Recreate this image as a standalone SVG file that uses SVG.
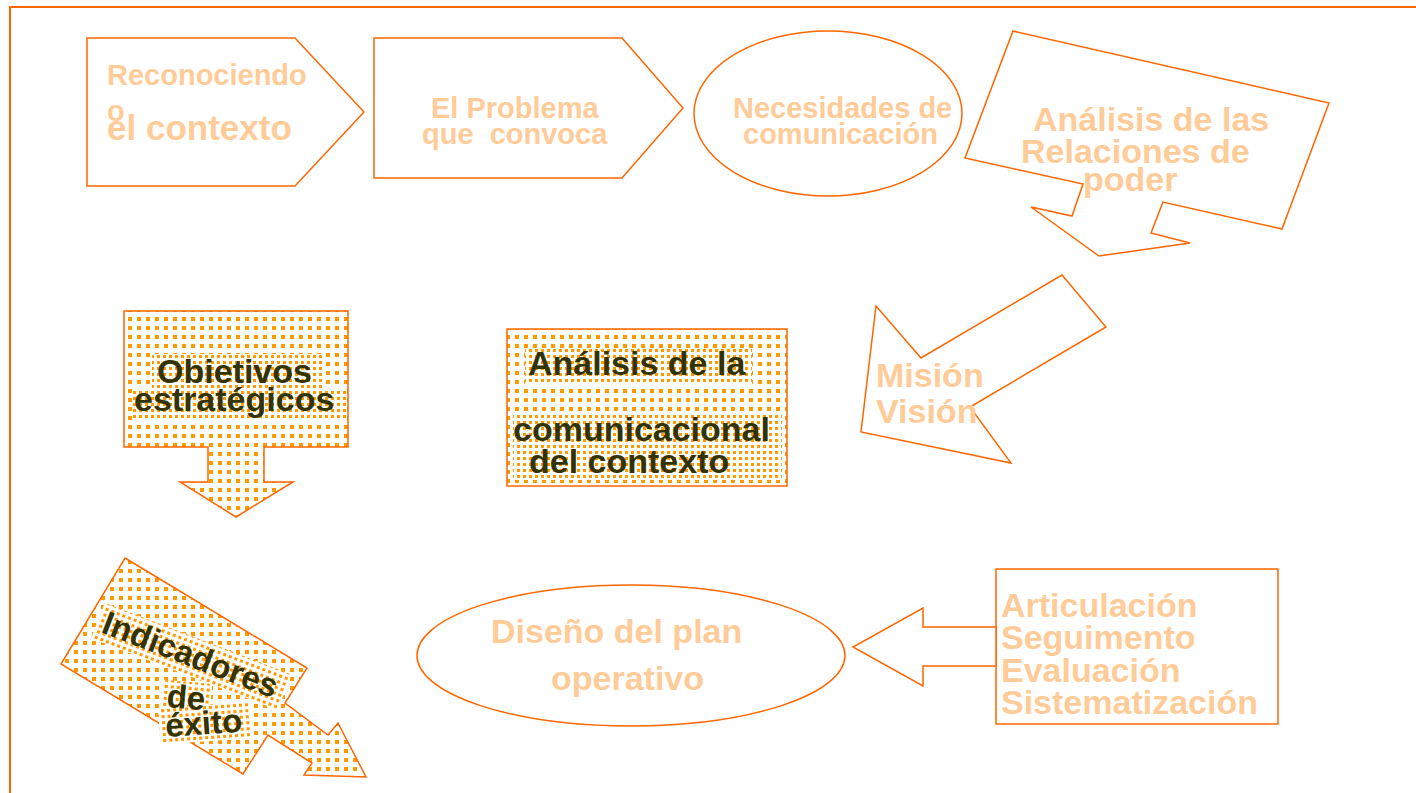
<svg xmlns="http://www.w3.org/2000/svg" width="1416" height="793" viewBox="0 0 1416 793">
<defs>
<pattern id="dots" width="9" height="9" patternUnits="userSpaceOnUse">
<rect width="9" height="9" fill="#ffffff"/>
<rect x="2" y="2" width="4" height="4" fill="#FF9900"/>
</pattern>
<pattern id="fine" width="6" height="6" patternUnits="userSpaceOnUse">
<rect width="6" height="6" fill="#ffffff"/>
<rect x="1" y="1" width="3" height="3" fill="#FF9900"/>
</pattern>
<style>
.sh{fill:#ffffff;stroke:#FF6600;stroke-width:1.5;stroke-linejoin:miter}
.pat{fill:url(#dots);stroke:#FF6600;stroke-width:1.5}
.tb{fill:url(#fine);stroke:none}
.lt{font-family:"Liberation Sans",Arial,sans-serif;font-weight:bold;fill:#FFCC99}
.dk{font-family:"Liberation Sans",Arial,sans-serif;font-weight:bold;fill:#333300}
</style>
</defs>
<rect width="1416" height="793" fill="#ffffff"/>
<path d="M10,793 L10,7 L1416,7" fill="none" stroke="#FF6600" stroke-width="2"/>

<g id="reconociendo">
<polygon class="sh" points="87,38 295,38 364,112 295,186 87,186"/>
<text class="lt" x="107" y="85" font-size="29">Reconociendo</text>
<text class="lt" x="107" y="121" font-size="29">o</text>
<text class="lt" x="107" y="140" font-size="35">el contexto</text>
</g>

<g id="problema">
<polygon class="sh" points="374,38 622,38 683,108 622,178 374,178"/>
<text class="lt" x="431" y="118" font-size="29">El Problema</text>
<text class="lt" x="422" y="144" font-size="29" xml:space="preserve" style="white-space:pre">que  convoca</text>
</g>

<g id="necesidades">
<ellipse class="sh" cx="828" cy="113.5" rx="134" ry="82.5"/>
<text class="lt" x="733" y="118" font-size="29">Necesidades de</text>
<text class="lt" x="743" y="144" font-size="29">comunicación</text>
</g>

<g id="relaciones">
<polygon class="sh" points="1013,31 1329,103 1282,229 1163,202 1151,233 1190,243 1099,256 1031,207 1072,216 1083,184 965,158"/>
<text class="lt" x="1033" y="131" font-size="34">Análisis de las</text>
<text class="lt" x="1021" y="163" font-size="34">Relaciones de</text>
<text class="lt" x="1083" y="191" font-size="34">poder</text>
</g>

<g id="mision">
<polygon class="sh" points="1062,275 1106,327 970,407 1011,463 861,432 876,306 921,358"/>
<text class="lt" x="876" y="387" font-size="34">Misión</text>
<text class="lt" x="876" y="423" font-size="34">Visión</text>
</g>

<g id="objetivos">
<polygon class="pat" points="124,311 348,311 348,447 264,447 264,482 293,482 236,517 180,482 208,482 208,447 124,447"/>
<rect class="tb" x="152" y="354" width="173" height="34"/>
<rect class="tb" x="133" y="388" width="214" height="32"/>
<text class="dk" x="157" y="383" font-size="34">Obietivos</text>
<text class="dk" x="134" y="411" font-size="34">estratégicos</text>
</g>

<g id="analisis-comunicacional">
<rect class="pat" x="507" y="329" width="280" height="157"/>
<rect class="tb" x="525" y="348" width="227" height="37"/>
<rect class="tb" x="513" y="412" width="269" height="68"/>
<text class="dk" x="528" y="375" font-size="34">Análisis de la</text>
<text class="dk" x="513" y="441" font-size="34">comunicacional</text>
<text class="dk" x="529" y="473" font-size="34">del contexto</text>
</g>

<g id="indicadores">
<polygon class="pat" points="125,558 307,668 285,703 328,735 338,723 366,777 304,775 312,763 268,735 243,774 61,664"/>
<rect class="tb" x="94" y="603" width="200" height="38" transform="rotate(21 100 632)"/>
<rect class="tb" x="160" y="680" width="50" height="34" transform="rotate(5 166 707)"/>
<rect class="tb" x="160" y="708" width="92" height="36" transform="rotate(-4 166 737)"/>
<text class="dk" x="100" y="632" font-size="33" transform="rotate(21 100 632)">Indicadores</text>
<text class="dk" x="166" y="707" font-size="33" transform="rotate(5 166 707)">de</text>
<text class="dk" x="166" y="737" font-size="33" transform="rotate(-4 166 737)">éxito</text>
</g>

<g id="diseno">
<ellipse class="sh" cx="631" cy="655.5" rx="214" ry="70.5"/>
<text class="lt" x="491" y="643" font-size="34">Diseño del plan</text>
<text class="lt" x="551" y="690" font-size="34">operativo</text>
</g>

<g id="articulacion">
<rect class="sh" x="996" y="569" width="282" height="155"/>
<text class="lt" x="1001" y="617" font-size="34">Articulación</text>
<text class="lt" x="1001" y="649" font-size="34">Seguimento</text>
<text class="lt" x="1001" y="682" font-size="34">Evaluación</text>
<text class="lt" x="1001" y="714" font-size="34">Sistematización</text>
</g>

<g id="connectors">
<polygon class="sh" points="996,627 923,627 923,608 853,647 923,686 923,666 996,666"/>
</g>
</svg>
